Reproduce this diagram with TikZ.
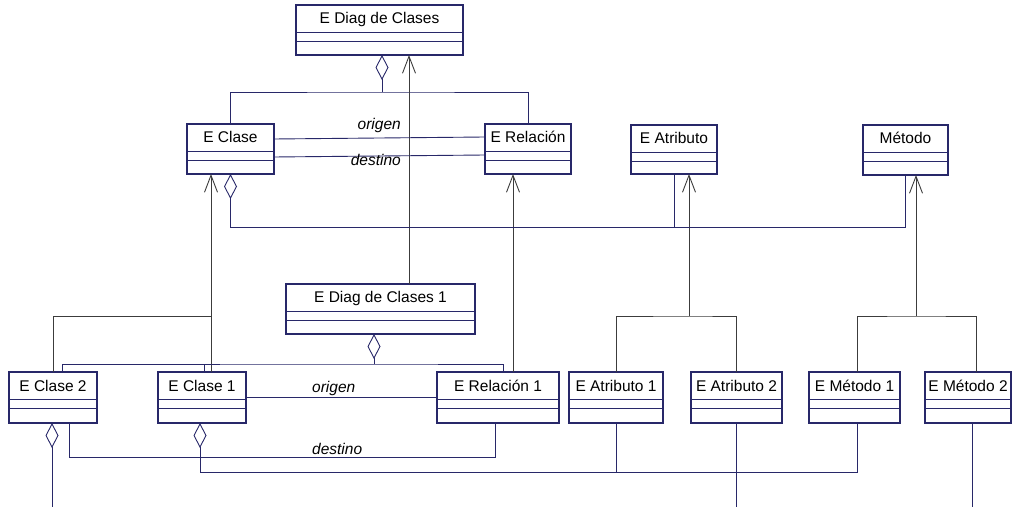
\documentclass[tikz,border=0pt]{standalone}
\usepackage{fontspec}
\setmainfont{Liberation Sans}
\usetikzlibrary{arrows.meta}
\definecolor{navy}{RGB}{40,40,105}
\definecolor{genc}{RGB}{60,60,60}
\tikzset{
 clsbox/.style={draw=navy, fill=white, line width=1.1bp, inner sep=0pt, outer sep=0pt},
 divider/.style={draw=navy, line width=0.9bp},
 clstext/.style={anchor=base, inner sep=0pt, font=\fontsize{15.5bp}{18bp}\selectfont},
 lbl/.style={font=\fontsize{15.5bp}{18bp}\selectfont\itshape, inner sep=0pt},
 assoc/.style={draw=navy, line width=0.9bp},
 gen/.style={draw=genc, line width=0.9bp},
 genarrow/.style={gen, -{Straight Barb[length=17bp, width=13bp, line width=0.9bp]}},
 aggr/.style={assoc, {Diamond[fill=white, length=25bp, width=13bp, line width=0.9bp]}-},
}
\newcommand\umlclass[6]{%
  \node[clsbox, minimum width={(#4-#2)*1bp}, minimum height={(#5-#3)*1bp}] (#1) at ({(#2+#4)/2},{(#3+#5)/2}) {};
  \draw[divider] ([yshift=-27bp]#1.north west) -- ([yshift=-27bp]#1.north east);
  \draw[divider] ([yshift=-36bp]#1.north west) -- ([yshift=-36bp]#1.north east);
  \node[clstext] (#1-name) at ([yshift=-19bp]#1.north) {#6};
}
\begin{document}
\begin{tikzpicture}[x=1bp,y=-1bp]
\useasboundingbox (0,0) rectangle (1013,507);
% classes
\umlclass{diag}{296}{5}{463}{55}{E Diag de Clases}
\umlclass{ec}{187}{124}{274}{174}{E Clase}
\umlclass{er}{485}{124}{571}{174}{E Relación}
\umlclass{ea}{631}{125}{717}{174}{E Atributo}
\umlclass{met}{863}{125}{948}{175}{Método}
\umlclass{d1}{286}{284}{475}{334}{E Diag de Clases 1}
\umlclass{ec2}{9}{372}{97}{423}{E Clase 2}
\umlclass{ec1}{158}{372}{246}{423}{E Clase 1}
\umlclass{er1}{437}{372}{559}{423}{E Relación 1}
\umlclass{ea1}{569}{372}{663}{423}{E Atributo 1}
\umlclass{ea2}{691}{372}{782}{423}{E Atributo 2}
\umlclass{em1}{809}{372}{900}{423}{E Método 1}
\umlclass{em2}{925}{372}{1011}{423}{E Método 2}
% helper coordinates
\coordinate (j1) at (382,92);
\coordinate (j2) at (374,364);
\coordinate (cA) at (409,0);
\coordinate (cB) at (211,316);
\coordinate (cC) at (513,0);
\coordinate (cD) at (689,316);
\coordinate (cE) at (916,316);
\coordinate (f1) at (52,507);
% aggregation diag -> E Clase, E Relacion
\draw[assoc] (ec.north) |- (j1) -| (er.north);
\draw[aggr] (diag.south -| j1) -- (j1);
% generalizations
\draw[genarrow] (d1.north -| cA) -- (diag.south -| cA);
\draw[genarrow] (ec1.north -| cB) -- (ec.south -| cB);
\draw[gen] (cB) -| (ec2.north);
\draw[genarrow] (er1.north -| cC) -- (er.south -| cC);
\draw[genarrow] (cD) -- (ea.south -| cD);
\draw[gen] (ea1.north) |- (cD) -| (ea2.north);
\draw[genarrow] (cE) -- (met.south -| cE);
\draw[gen] ([xshift=2.5bp]em1.north) |- (cE) -| ([xshift=8bp]em2.north);
% associations top
\draw[assoc] ([yshift=-15bp]ec.north east) -- ([yshift=-13bp]er.north west);
\draw[assoc] ([yshift=-33bp]ec.north east) -- ([yshift=-31bp]er.north west);
\node[lbl, anchor=base east] (lo1) at (401,130) {origen};
\node[lbl, anchor=base east] (ld1) at (401,166) {destino};
% aggregation E Clase -> E Atributo, Metodo
\draw[aggr] (ec.south) -- ++(0,53) coordinate (k1) -| (met.south);
\draw[assoc] (ea.south) -- (ea.south |- k1);
% aggregation diag1 -> E Clase 2, E Clase 1, E Relacion 1
\draw[aggr] (d1.south -| j2) -- (j2);
\draw[assoc] ([xshift=9bp]ec2.north) |- (j2) -| ([xshift=5bp]er1.north);
\draw[assoc] ([xshift=2bp]ec1.north) -- ([xshift=2bp]ec1.north |- j2);
% associations bottom
\draw[assoc] ([yshift=-25bp]ec1.north east) -- ([yshift=-25bp]er1.north west);
\draw[assoc] ([xshift=16bp]ec2.south) -- ++(0,34) -| ([xshift=-3bp]er1.south);
\node[lbl, anchor=base west] (lo2) at (312,392) {origen};
\node[lbl, anchor=base west] (ld2) at (312,454) {destino};
% aggregations from bottom classes
\draw[aggr] ([xshift=-1bp]ec2.south) -- (f1);
\draw[aggr] ([xshift=-2bp]ec1.south) -- ++(0,49) coordinate (k2) -| ([xshift=3bp]em1.south);
\draw[assoc] (ea1.south) -- (ea1.south |- k2);
\draw[assoc] (ea2.south) -- (ea2.south |- f1);
\draw[assoc] ([xshift=4bp]em2.south) -- ([xshift=4bp]em2.south |- f1);
\end{tikzpicture}
\end{document}
